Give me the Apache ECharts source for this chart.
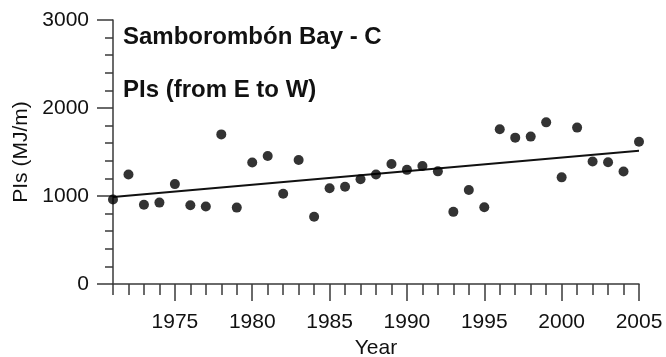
<!DOCTYPE html>
<html>
<head>
<meta charset="utf-8">
<script src="https://cdn.jsdelivr.net/npm/echarts@6/dist/echarts.min.js"></script>
<style>
  html, body { margin: 0; padding: 0; background: #fff; }
  #chart { width: 666px; height: 357px; }
</style>
</head>
<body>
<div id="chart"></div>
<script>
// Annual PIs values, Samborombón Bay - C
const years = [1971, 1972, 1973, 1974, 1975, 1976, 1977, 1978, 1979, 1980,
               1981, 1982, 1983, 1984, 1985, 1986, 1987, 1988, 1989, 1990,
               1991, 1992, 1993, 1994, 1995, 1996, 1997, 1998, 1999, 2000,
               2001, 2002, 2003, 2004, 2005];
const pis = [960, 1245, 900, 925, 1135, 895, 880, 1700, 868, 1380,
             1455, 1025, 1410, 765, 1088, 1106, 1190, 1245, 1364, 1297,
             1341, 1280, 820, 1068, 872, 1758, 1663, 1675, 1837, 1212,
             1777, 1392, 1384, 1278, 1617];

// Linear trend endpoints
const trendYears = [1971, 2005];
const trendValues = [990, 1515];

// Axis ticks
const yearLabels = [1975, 1980, 1985, 1990, 1995, 2000, 2005];
const yearMinorTicks = [];
for (let y = 1971; y <= 2005; y++) yearMinorTicks.push(y);

const FONT = 'Liberation Sans, Arial, sans-serif';
const INK = '#111';
const AXIS = '#3a3a3a';
const plain = v => String(v);

const chart = echarts.init(document.getElementById('chart'));
chart.setOption({
  animation: false,
  backgroundColor: '#fff',
  title: [
    {
      text: 'Samborombón Bay - C',
      left: 123, top: 25, padding: 0,
      textStyle: { fontFamily: FONT, fontSize: 24, fontWeight: 'bold', color: INK }
    },
    {
      text: 'PIs (from E to W)',
      left: 123, top: 78, padding: 0,
      textStyle: { fontFamily: FONT, fontSize: 24, fontWeight: 'bold', color: INK }
    }
  ],
  grid: { left: 113, right: 27, top: 20, bottom: 73, outerBoundsMode: 'none', containLabel: false },
  xAxis: [
    {
      type: 'value', min: 1971, max: 2005,
      name: 'Year', nameLocation: 'middle', nameGap: 52,
      nameTextStyle: { fontFamily: FONT, fontSize: 21, color: INK },
      axisLine: { show: true, onZero: false, lineStyle: { color: AXIS, width: 1.5 } },
      axisTick: { show: true, length: 17, customValues: yearLabels, lineStyle: { color: AXIS, width: 1.5 } },
      axisLabel: { customValues: yearLabels, formatter: plain, margin: 28, fontFamily: FONT, fontSize: 21, color: INK },
      splitLine: { show: false }
    },
    {
      type: 'value', min: 1971, max: 2005, position: 'bottom',
      axisLine: { show: false },
      axisTick: { show: true, length: 11, customValues: yearMinorTicks, lineStyle: { color: AXIS, width: 1.5 } },
      axisLabel: { show: false },
      splitLine: { show: false }
    }
  ],
  yAxis: {
    type: 'value', min: 0, max: 3000, interval: 1000,
    name: 'PIs (MJ/m)', nameLocation: 'middle', nameGap: 78,
    nameTextStyle: { fontFamily: FONT, fontSize: 21, color: INK },
    axisLine: { show: true, lineStyle: { color: AXIS, width: 1.5 } },
    axisTick: { show: true, length: 16, lineStyle: { color: AXIS, width: 1.5 } },
    minorTick: { show: true, splitNumber: 5, length: 8, lineStyle: { color: AXIS, width: 1.5 } },
    axisLabel: { margin: 24, formatter: plain, fontFamily: FONT, fontSize: 21, color: INK },
    splitLine: { show: false },
    minorSplitLine: { show: false }
  },
  series: [
    {
      type: 'line',
      data: trendYears.map((y, i) => [y, trendValues[i]]),
      symbol: 'none',
      lineStyle: { color: INK, width: 2 },
      z: 2
    },
    {
      type: 'scatter',
      data: years.map((y, i) => [y, pis[i]]),
      symbol: 'circle', symbolSize: 10,
      itemStyle: { color: '#000' },
      z: 3
    }
  ]
});
</script>
</body>
</html>
